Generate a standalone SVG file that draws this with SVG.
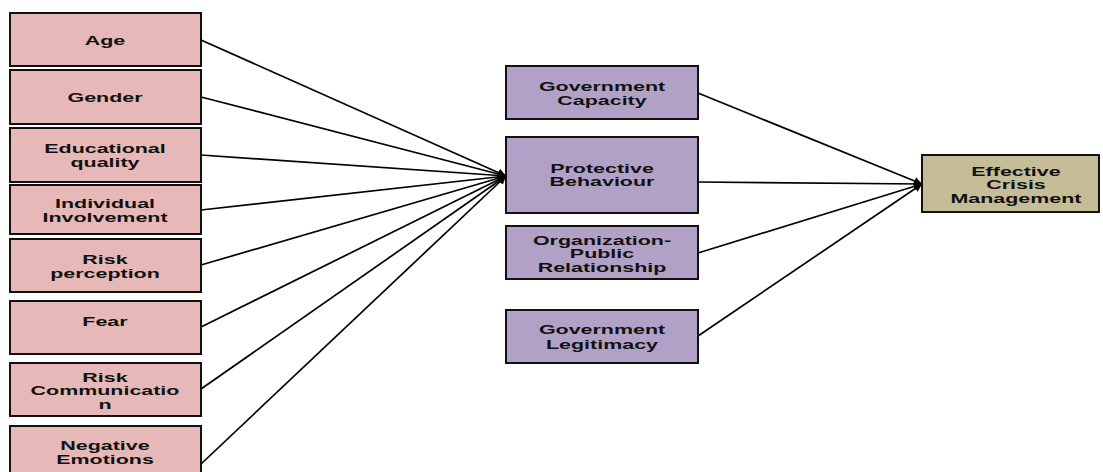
<svg xmlns="http://www.w3.org/2000/svg" width="1103" height="472" viewBox="0 0 1103 472">
<defs>
<style>
.box{stroke:#111;stroke-width:2}
.pink{fill:#e6b8b7}
.purple{fill:#b2a1c7}
.tan{fill:#c4bd97}
text{font-family:"Liberation Sans",Arial,sans-serif;font-weight:bold;font-size:13px;fill:#111;text-anchor:middle}
.conn{stroke:#000;stroke-width:1.7;fill:none;marker-end:url(#arr)}
</style>
<marker id="arr" viewBox="0 0 10 10" refX="10" refY="5" markerWidth="9" markerHeight="8" markerUnits="userSpaceOnUse" orient="auto">
<path d="M0,0 L10,5 L0,10 z" fill="#000"/>
</marker>
</defs>
<rect width="1103" height="472" fill="#fff"/>

<g id="connectors">
<line class="conn" x1="201" y1="40" x2="506" y2="176"/>
<line class="conn" x1="201" y1="97" x2="506" y2="176"/>
<line class="conn" x1="201" y1="155" x2="506" y2="176"/>
<line class="conn" x1="201" y1="210" x2="506" y2="176"/>
<line class="conn" x1="201" y1="265" x2="506" y2="176"/>
<line class="conn" x1="201" y1="327" x2="506" y2="176"/>
<line class="conn" x1="201" y1="389" x2="506" y2="176"/>
<line class="conn" x1="201" y1="464" x2="506" y2="176"/>
<line class="conn" x1="698" y1="93" x2="922" y2="184"/>
<line class="conn" x1="698" y1="182" x2="922" y2="184"/>
<line class="conn" x1="698" y1="253" x2="922" y2="184"/>
<line class="conn" x1="698" y1="336" x2="922" y2="184"/>
</g>

<g id="age">
<rect class="box pink" x="10" y="13" width="191" height="53"/>
<g transform="translate(105,0) scale(1.65,1)"><text x="0" y="45">Age</text></g>
</g>
<g id="gender">
<rect class="box pink" x="10" y="70" width="191" height="54"/>
<g transform="translate(105,0) scale(1.65,1)"><text x="0" y="102">Gender</text></g>
</g>
<g id="educational-quality">
<rect class="box pink" x="10" y="128" width="191" height="54"/>
<g transform="translate(105,0) scale(1.65,1)"><text x="0" y="153">Educational</text><text x="0" y="167">quality</text></g>
</g>
<g id="individual-involvement">
<rect class="box pink" x="10" y="185" width="191" height="49"/>
<g transform="translate(105,0) scale(1.65,1)"><text x="0" y="208">Individual</text><text x="0" y="222">Involvement</text></g>
</g>
<g id="risk-perception">
<rect class="box pink" x="10" y="239" width="191" height="53"/>
<g transform="translate(105,0) scale(1.65,1)"><text x="0" y="264">Risk</text><text x="0" y="278">perception</text></g>
</g>
<g id="fear">
<rect class="box pink" x="10" y="301" width="191" height="53"/>
<g transform="translate(105,0) scale(1.65,1)"><text x="0" y="326">Fear</text></g>
</g>
<g id="risk-communication">
<rect class="box pink" x="10" y="363" width="191" height="53"/>
<g transform="translate(105,0) scale(1.65,1)"><text x="0" y="382">Risk</text><text x="0" y="395.5">Communicatio</text><text x="0" y="409">n</text></g>
</g>
<g id="negative-emotions">
<rect class="box pink" x="10" y="426" width="191" height="54"/>
<g transform="translate(105,0) scale(1.65,1)"><text x="0" y="450">Negative</text><text x="0" y="464">Emotions</text></g>
</g>

<g id="government-capacity">
<rect class="box purple" x="506" y="66" width="192" height="53"/>
<g transform="translate(602,0) scale(1.65,1)"><text x="0" y="91">Government</text><text x="0" y="105">Capacity</text></g>
</g>
<g id="protective-behaviour">
<rect class="box purple" x="506" y="137" width="192" height="76"/>
<g transform="translate(602,0) scale(1.65,1)"><text x="0" y="173">Protective</text><text x="0" y="186.5">Behaviour</text></g>
</g>
<g id="organization-public-relationship">
<rect class="box purple" x="506" y="226" width="192" height="53"/>
<g transform="translate(602,0) scale(1.65,1)"><text x="0" y="245">Organization-</text><text x="0" y="258.5">Public</text><text x="0" y="272">Relationship</text></g>
</g>
<g id="government-legitimacy">
<rect class="box purple" x="506" y="310" width="192" height="53"/>
<g transform="translate(602,0) scale(1.65,1)"><text x="0" y="334">Government</text><text x="0" y="349">Legitimacy</text></g>
</g>

<g id="effective-crisis-management">
<rect class="box tan" x="922" y="155" width="177" height="57"/>
<g transform="translate(1016,0) scale(1.65,1)"><text x="0" y="176">Effective</text><text x="0" y="189.5">Crisis</text><text x="0" y="203">Management</text></g>
</g>
</svg>
